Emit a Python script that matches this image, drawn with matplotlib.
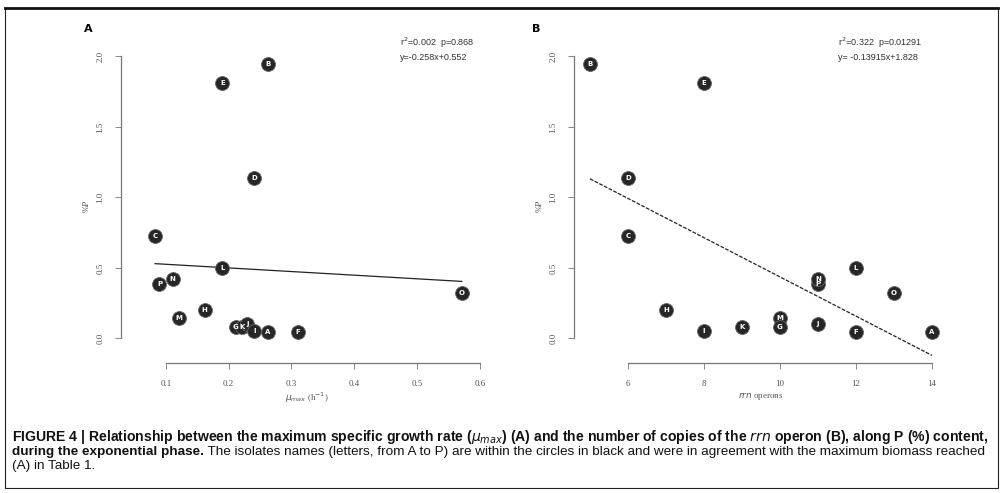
import matplotlib
matplotlib.use("Agg")
import matplotlib.pyplot as plt
import numpy as np
from matplotlib.lines import Line2D

# isolate letters and their values (same order in both panels)
isolates = ["B", "E", "D", "C", "L", "P", "N", "M", "H", "G", "K", "J", "I", "A", "F", "O"]
p_content = [1.95, 1.81, 1.14, 0.73, 0.50, 0.385, 0.42, 0.145, 0.20, 0.08, 0.08, 0.105, 0.055, 0.047, 0.047, 0.32]
mu_max = [0.262, 0.190, 0.241, 0.083, 0.190, 0.090, 0.111, 0.121, 0.162, 0.211, 0.222, 0.230, 0.241, 0.262, 0.310, 0.571]
rrn_copies = [5, 8, 6, 6, 12, 11, 11, 10, 7, 10, 9, 11, 8, 14, 12, 13]

fit_a = (-0.258, 0.552)
fit_b = (-0.13915, 1.828)
stats_a = ["r$^2$=0.002  p=0.868", "y=-0.258x+0.552"]
stats_b = ["r$^2$=0.322  p=0.01291", "y= -0.13915x+1.828"]

yticks = [0.0, 0.5, 1.0, 1.5, 2.0]
xticks_a = [0.1, 0.2, 0.3, 0.4, 0.5, 0.6]
xticks_b = [6, 8, 10, 12, 14]

caption_bold_1 = ("FIGURE 4 | Relationship between the maximum specific growth rate ($\\mu_{max}$) (A) and the number "
                  "of copies of the $rrn$ operon (B), along P (%) content,")
caption_bold_2 = "during the exponential phase."
caption_reg_2 = (" The isolates names (letters, from A to P) are within the circles in black and were in "
                 "agreement with the maximum biomass reached")
caption_reg_3 = "(A) in Table 1."

W, H = 1004, 493
fig = plt.figure(figsize=(W / 100, H / 100), dpi=100)
fig.patch.set_facecolor("white")

serif = ["Liberation Serif", "DejaVu Serif"]
narrow = ["Liberation Sans Narrow", "Liberation Sans", "DejaVu Sans"]


def panel(left_px, right_px, x, xlim, xticks, xticklabels, fit, line_style, stats, stats_x, xlabel, letter, letter_x):
    bottom_px, top_px = 363, 49.4
    ax = fig.add_axes([left_px / W, 1 - bottom_px / H, (right_px - left_px) / W, (bottom_px - top_px) / H])
    ax.set_xlim(*xlim)
    ax.set_ylim(-0.174, 2.05)
    for s in ["top", "right"]:
        ax.spines[s].set_visible(False)
    for s in ["left", "bottom"]:
        ax.spines[s].set_color("#777777")
        ax.spines[s].set_linewidth(0.9)
    ax.spines["left"].set_bounds(0, 2)
    ax.spines["bottom"].set_bounds(xticks[0], xticks[-1])
    ax.set_yticks(yticks)
    ax.set_yticklabels(["%.1f" % v for v in yticks], rotation=90, va="center",
                       fontsize=6.5, color="#555555", family=serif)
    ax.set_xticks(xticks)
    ax.set_xticklabels(xticklabels, fontsize=6.5, color="#555555", family=serif)
    ax.tick_params(axis="both", length=4, width=0.7, color="#888888", pad=8)
    ax.set_ylabel("%P", fontsize=6.5, color="#555555", family=serif, labelpad=4)
    ax.set_xlabel(xlabel, fontsize=6.5, color="#555555", family=serif, labelpad=2)

    xs = np.array([min(x), max(x)])
    ax.plot(xs, fit[0] * xs + fit[1], color="#222222", lw=0.9, ls=line_style, zorder=2)

    ax.scatter(x, p_content, s=100, c="#262626", edgecolors="#666666", linewidths=0.6, zorder=3)
    for xi, yi, lab in zip(x, p_content, isolates):
        ax.text(xi, yi, lab, ha="center", va="center", fontsize=5, color="white",
                fontweight="bold", zorder=4)

    fig.text(stats_x / W, 1 - 43 / H, stats[0], fontsize=6.5, color="#333333", va="center", family=narrow)
    fig.text(stats_x / W, 1 - 57 / H, stats[1], fontsize=6.5, color="#333333", va="center", family=narrow)
    fig.text(letter_x / W, 1 - 29 / H, letter, fontsize=8, fontweight="bold", va="center", ha="center")
    return ax


ax_a = panel(120.9, 492.6, mu_max, (0.0286, 0.62), xticks_a, ["%.1f" % v for v in xticks_a],
             fit_a, "-", stats_a, 400, "$\\mu_{max}$ (h$^{-1}$)", "A", 88)
ax_b = panel(574, 947.2, rrn_copies, (4.58, 14.4), xticks_b, [str(v) for v in xticks_b],
             fit_b, (0, (3, 1.2)), stats_b, 838, "$rrn$ operons", "B", 536)

# frame around the whole figure
fig.add_artist(Line2D([5 / W, 998 / W, 998 / W, 5 / W, 5 / W],
                      [1 - 8 / H, 1 - 8 / H, 1 - 488 / H, 1 - 488 / H, 1 - 8 / H],
                      transform=fig.transFigure, color="#222222", lw=0.8))
fig.add_artist(Line2D([5 / W, 998 / W], [1 - 7.5 / H, 1 - 7.5 / H],
                      transform=fig.transFigure, color="#111111", lw=2))

# caption, scaled so each line fits the frame
renderer = fig.canvas.get_renderer()
left_px, line_w = 12, 976


def cap(x_px, y_px, s, fs, weight):
    return fig.text(x_px / W, 1 - y_px / H, s, fontsize=fs, fontweight=weight, va="center",
                    family=narrow, color="#111111")


line1 = cap(left_px, 437, caption_bold_1, 8, "bold")
fs1 = 8 * line_w / line1.get_window_extent(renderer).width
line1.set_fontsize(fs1)

b2 = cap(left_px, 452, caption_bold_2, fs1, "bold")
r2 = cap(left_px, 452, caption_reg_2, fs1, "normal")
total = b2.get_window_extent(renderer).width + r2.get_window_extent(renderer).width
fs2 = min(fs1, fs1 * line_w / total)
b2.set_fontsize(fs2)
r2.set_fontsize(fs2)
r2.set_x((left_px + b2.get_window_extent(renderer).width) / W)

cap(left_px, 466, caption_reg_3, fs2, "normal")

fig.savefig("out.png", dpi=100, facecolor="white")
